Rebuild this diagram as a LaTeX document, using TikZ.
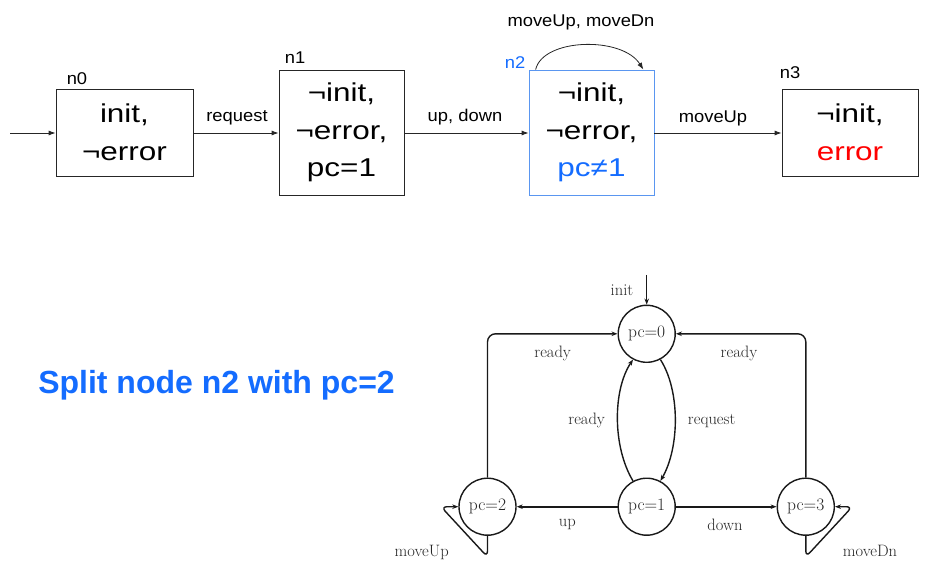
\documentclass[tikz,border=0pt]{standalone}
\usepackage{fontspec}
\usetikzlibrary{arrows.meta}
\newfontfamily\boxfont[FakeStretch=1.22]{Liberation Sans}
\newfontfamily\lblfont[FakeStretch=1.08]{Liberation Sans}
\newfontfamily\headfont{Liberation Sans}
\definecolor{myblue}{RGB}{20,108,255}
\definecolor{boxblue}{RGB}{90,150,240}
\definecolor{myred}{RGB}{255,0,0}
\tikzset{
  sbox/.style={draw=black!85, line width=0.8pt, inner sep=0pt, align=center,
    font=\boxfont\fontsize{25.8}{37.5}\selectfont},
  toplbl/.style={anchor=base, inner sep=0pt, font=\lblfont\fontsize{17}{20}\selectfont},
  tarr/.style={-{Latex[length=7pt,width=5pt]}, line width=0.8pt, draw=black!85},
  state/.style={circle, draw=black!90, line width=1.4pt, minimum size=57pt, inner sep=0pt,
    font=\fontsize{17.5}{20}\selectfont, text=black!85},
  blbl/.style={anchor=base, inner sep=0pt, font=\fontsize{16.5}{19}\selectfont, text=black!85},
  barr/.style={-{Stealth[length=6pt,width=4.5pt]}, line width=1.4pt, draw=black!90},
}
\begin{document}
\begin{tikzpicture}[x=1pt,y=-1pt]
\useasboundingbox (0,0) rectangle (937,561);
% ---------- top row ----------
\node[sbox, minimum width=137pt, minimum height=87pt] (n0) at (124.5,132.5) {init,\\¬error};
\node[sbox, minimum width=125pt, minimum height=125pt] (n1) at (341.5,132.5) {¬init,\\¬error,\\pc=1};
\node[sbox, draw=boxblue, minimum width=125pt, minimum height=125pt] (n2) at (591.5,132.5) {¬init,\\¬error,\\\textcolor{myblue}{pc≠1}};
\node[sbox, minimum width=136pt, minimum height=87pt] (n3) at (850,132.5) {¬init,\\\textcolor{myred}{error}};

\node[toplbl] (ln0) at (77,84.3) {n0};
\node[toplbl] (ln1) at (295,64) {n1};
\node[toplbl, text=myblue] (ln2) at (515,68.3) {n2};
\node[toplbl] (ln3) at (790,78.3) {n3};

\coordinate (start) at (10,133);
\draw[tarr] (start) -- (n0.west |- start);
\draw[tarr] (n0.east |- start) -- (n1.west |- start);
\draw[tarr] (n1.east |- start) -- (n2.west |- start);
\draw[tarr] (n2.east |- start) -- (n3.west |- start);
\node[toplbl] (lreq) at (237,121.7) {request};
\node[toplbl] (lud) at (465,121.7) {up, down};
\node[toplbl] (lmu) at (713,122.5) {moveUp};
\draw[tarr] ([xshift=7pt]n2.north west) .. controls (543,38) and (622,36) .. ([xshift=-11pt]n2.north east);
\node[toplbl] (lmm) at (581,26.7) {moveUp, moveDn};

% ---------- heading ----------
\node[anchor=base, inner sep=0pt, text=myblue, font=\headfont\bfseries\fontsize{32}{36}\selectfont] (head) at (216.5,393.3) {Split node n2 with pc=2};

% ---------- bottom graph ----------
\node[state] (p0) at (646.7,333.8) {pc=0};
\node[state] (p1) at (646.7,506.7) {pc=1};
\node[state] (p2) at (487.5,506.7) {pc=2};
\node[state] (p3) at (805.8,506.7) {pc=3};

\coordinate (ini) at (646.7,275);
\draw[barr] (ini) -- (p0);
\node[blbl] (linit) at (622,296) {init};

\draw[barr, rounded corners=8pt] (p2.north) |- (p0.west);
\draw[barr, rounded corners=8pt] (p3.north) |- (p0.east);
\node[blbl] (lr1) at (552.7,357.3) {ready};
\node[blbl] (lr2) at (739,357.3) {ready};

\draw[barr] (p0.-62) .. controls (680,390) and (680,447) .. (p1.62);
\draw[barr] (p1.118) .. controls (612.5,447) and (612.5,390) .. (p0.-118);
\node[blbl] (lr3) at (586.7,424) {ready};
\node[blbl] (lrq) at (711.7,424) {request};

\draw[barr, line width=1.9pt] (p1) -- (p2);
\draw[barr, line width=1.9pt] (p1) -- (p3);
\node[blbl] (lup) at (567.3,526.7) {up};
\node[blbl] (ldn) at (725,530) {down};

\draw[barr, rounded corners=6pt] (p2.south) -- (487.5,557) -- (441,506.7) -- (p2.west);
\draw[barr, rounded corners=6pt] (p3.south) -- (805.8,557) -- (852.3,506.7) -- (p3.east);
\node[blbl] (lmup) at (421.7,556.7) {moveUp};
\node[blbl] (lmdn) at (870,556.7) {moveDn};
\end{tikzpicture}
\end{document}
